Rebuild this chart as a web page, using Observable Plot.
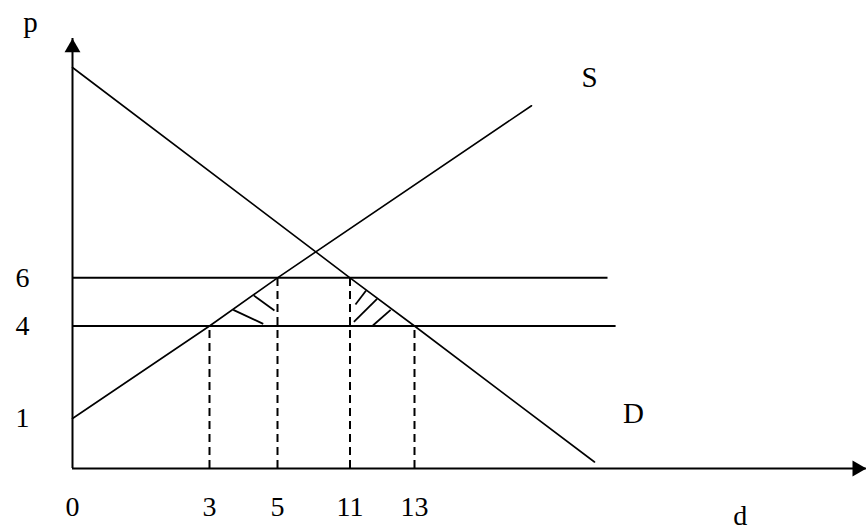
<!DOCTYPE html>
<html>
<head>
<meta charset="utf-8">
<script src="https://cdn.jsdelivr.net/npm/d3@7"></script>
<script src="https://cdn.jsdelivr.net/npm/@observablehq/plot@0.6"></script>
<style>
  html, body { margin: 0; padding: 0; background: #fff; }
</style>
</head>
<body>
<script>
// ---- data (quantity d, price p) ----
const supply = [ // S
  {q: 0, p: 1}, {q: 3, p: 4}, {q: 5, p: 6}, {q: 15.6, p: 15}
];
const demand = [ // D
  {q: 0, p: 17}, {q: 11, p: 6}, {q: 13, p: 4}, {q: 17, p: 0.13}
];
const priceLines = [ // horizontal price lines
  {p: 6, qEnd: 17.3},
  {p: 4, qEnd: 17.48}
];
const dropLines = [ // dashed verticals
  {q: 3, p: 4}, {q: 5, p: 6}, {q: 11, p: 6}, {q: 13, p: 4}
];
const hatchS = [
  {q1: 4.30, p1: 5.27, q2: 4.91, p2: 4.64},
  {q1: 3.70, p1: 4.67, q2: 4.58, p2: 4.09}
];
const hatchD = [
  {q1: 11.50, p1: 5.47, q2: 11.17, p2: 4.89},
  {q1: 11.84, p1: 5.13, q2: 11.12, p2: 4.17},
  {q1: 12.26, p1: 4.67, q2: 11.71, p2: 4.02}
];
const xTicks = [0, 3, 5, 11, 13];
const yTicks = [1, 4, 6];
const xAxisEnd = 23.04;
const yAxisTop = 18.52;

// schematic (not-to-scale) axes: piecewise linear scales
const xDomain = [0, 3, 5, 11, 13, 17];
const xRange  = [72, 209, 277, 349.5, 414, 594];
const yDomain = [0, 1, 4, 6, 17];
const yRange  = [468, 418, 325.5, 277.3, 67];

const font = "Liberation Serif, Times New Roman, serif";

const chart = Plot.plot({
  width: 866,
  height: 532,
  margin: 0,
  style: {background: "#fff", fontFamily: font, color: "#000"},
  x: {type: "linear", domain: xDomain, range: xRange, axis: null},
  y: {type: "linear", domain: yDomain, range: yRange, axis: null},
  marks: [
    // axes
    Plot.ruleX([0], {x: d => d, y1: 0, y2: yAxisTop, stroke: "#000", strokeWidth: 2}),
    Plot.ruleY([0], {y: d => d, x1: 0, x2: xAxisEnd, stroke: "#000", strokeWidth: 2}),
    Plot.dot([{q: 0, p: yAxisTop}], {x: "q", y: "p", symbol: "triangle", r: 5.9, fill: "#000", stroke: "none", dy: 9.2}),
    Plot.dot([{q: xAxisEnd, p: 0}], {x: "q", y: "p", symbol: "triangle", r: 5.9, fill: "#000", stroke: "none", rotate: 90, dx: -9.2}),
    // price lines
    Plot.ruleY(priceLines, {y: "p", x1: 0, x2: "qEnd", stroke: "#000", strokeWidth: 2}),
    // dashed verticals
    Plot.ruleX(dropLines, {x: "q", y1: 0, y2: "p", stroke: "#000", strokeWidth: 2, strokeDasharray: "8,5"}),
    // supply and demand
    Plot.line(supply, {x: "q", y: "p", stroke: "#000", strokeWidth: 1.6}),
    Plot.line(demand, {x: "q", y: "p", stroke: "#000", strokeWidth: 1.6}),
    // hatches
    Plot.link(hatchS, {x1: "q1", y1: "p1", x2: "q2", y2: "p2", stroke: "#000", strokeWidth: 1.8}),
    Plot.link(hatchD, {x1: "q1", y1: "p1", x2: "q2", y2: "p2", stroke: "#000", strokeWidth: 1.8}),
    // tick labels
    Plot.text(xTicks, {x: d => d, y: 0, text: d => String(d), dy: 39, fontSize: 28, fill: "#000"}),
    Plot.text(yTicks, {x: 0, y: d => d, text: d => String(d), dx: -50, fontSize: 28, fill: "#000"}),
    // curve / axis labels
    Plot.text([{q: 0, p: yAxisTop, t: "p"}], {x: "q", y: "p", text: "t", dx: -42, dy: -16, fontSize: 29, fill: "#000"}),
    Plot.text([{q: 15.6, p: 15, t: "S"}], {x: "q", y: "p", text: "t", dx: 58, dy: -28, fontSize: 29, fill: "#000"}),
    Plot.text([{q: 17, p: 0.13, t: "D"}], {x: "q", y: "p", text: "t", dx: 39, dy: -48, fontSize: 29, fill: "#000"}),
    Plot.text([{q: xAxisEnd, p: 0, t: "d"}], {x: "q", y: "p", text: "t", dx: -126, dy: 48, fontSize: 28, fill: "#000"})
  ]
});
document.body.appendChild(chart);
</script>
</body>
</html>
